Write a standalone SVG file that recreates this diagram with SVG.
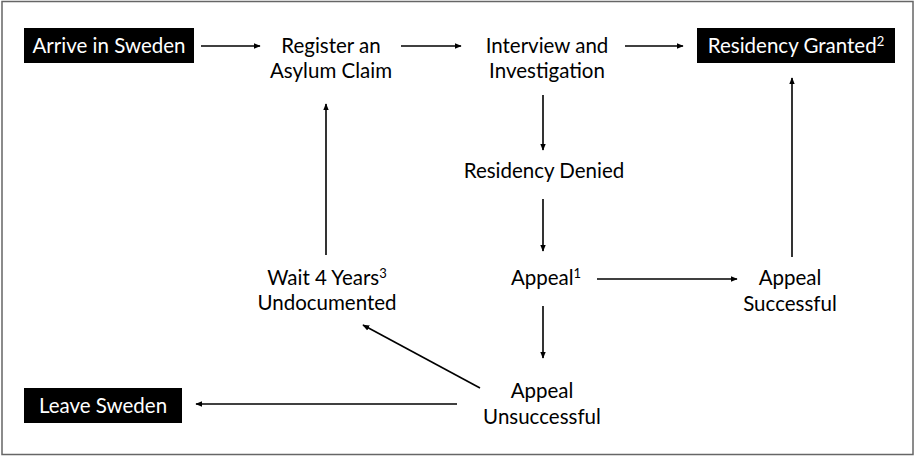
<svg xmlns="http://www.w3.org/2000/svg" width="917" height="456" viewBox="0 0 917 456">
  <style>
    .t { font-family: Lato, "Open Sans", "Liberation Sans", sans-serif; font-size: 20.5px; fill: #000; text-anchor: middle; }
    .w { fill: #fff; }
    .box { fill: #000; }
    .edge { stroke: #000; stroke-width: 1.6; fill: none; marker-end: url(#arrow); }
  </style>
  <defs>
    <marker id="arrow" viewBox="0 0 10 10" refX="9" refY="5" markerWidth="7" markerHeight="7" markerUnits="userSpaceOnUse" orient="auto">
      <path d="M0,1 L10,5 L0,9 Z" fill="#000"/>
    </marker>
  </defs>

  <rect x="2" y="1.5" width="911" height="453" fill="#fff" stroke="#666" stroke-width="1.5"/>

  <g id="arrive">
    <rect class="box" x="24" y="28" width="170" height="35"/>
    <text class="t w" x="109" y="53">Arrive in Sweden</text>
  </g>
  <g id="register">
    <text class="t" x="331" y="53">Register an</text>
    <text class="t" x="331" y="78">Asylum Claim</text>
  </g>
  <g id="interview">
    <text class="t" x="547" y="53">Interview and</text>
    <text class="t" x="547" y="78">Investigation</text>
  </g>
  <g id="granted">
    <rect class="box" x="697" y="28" width="198" height="35"/>
    <text class="t w" x="796" y="53">Residency Granted<tspan font-size="13" dy="-7">2</tspan></text>
  </g>
  <g id="denied">
    <text class="t" x="544" y="178">Residency Denied</text>
  </g>
  <g id="appeal">
    <text class="t" x="546" y="285">Appeal<tspan font-size="13" dy="-7">1</tspan></text>
  </g>
  <g id="successful">
    <text class="t" x="790" y="285">Appeal</text>
    <text class="t" x="790" y="311">Successful</text>
  </g>
  <g id="wait">
    <text class="t" x="327" y="285">Wait 4 Years<tspan font-size="13" dy="-7">3</tspan></text>
    <text class="t" x="327" y="310">Undocumented</text>
  </g>
  <g id="unsuccessful">
    <text class="t" x="542" y="398">Appeal</text>
    <text class="t" x="542" y="424">Unsuccessful</text>
  </g>
  <g id="leave">
    <rect class="box" x="24" y="388" width="158" height="35"/>
    <text class="t w" x="103" y="413">Leave Sweden</text>
  </g>

  <g id="connectors">
    <line class="edge" x1="201" y1="46" x2="260" y2="46"/>
    <line class="edge" x1="401" y1="46" x2="461" y2="46"/>
    <line class="edge" x1="625" y1="46" x2="683" y2="46"/>
    <line class="edge" x1="543" y1="95" x2="543" y2="150"/>
    <line class="edge" x1="543" y1="199" x2="543" y2="251"/>
    <line class="edge" x1="597" y1="279" x2="737" y2="279"/>
    <line class="edge" x1="792" y1="257" x2="792" y2="78"/>
    <line class="edge" x1="543" y1="306" x2="543" y2="358"/>
    <line class="edge" x1="480" y1="388" x2="363" y2="325"/>
    <line class="edge" x1="326" y1="255" x2="326" y2="104"/>
    <line class="edge" x1="457" y1="404" x2="196" y2="404"/>
  </g>
</svg>
